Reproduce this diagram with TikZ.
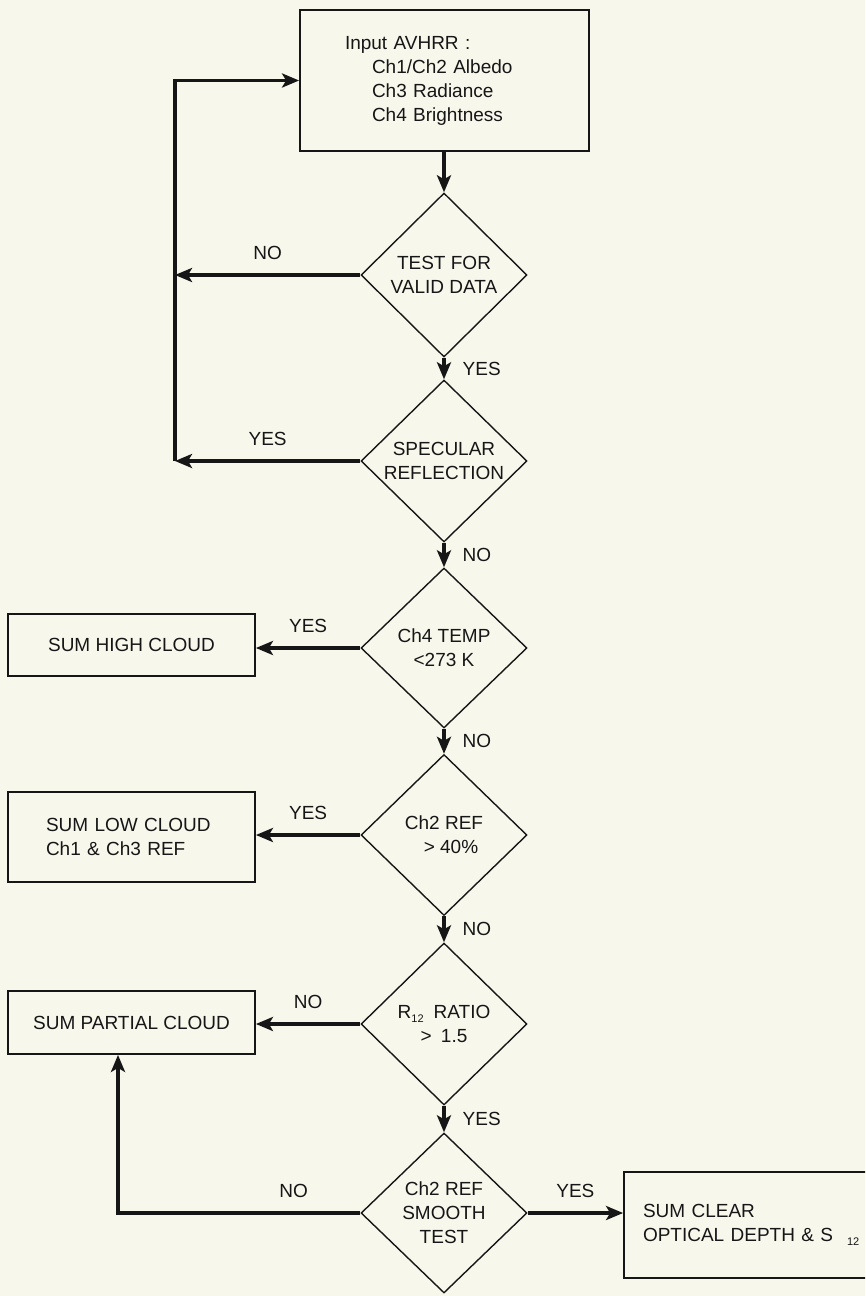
\documentclass[tikz,border=0pt]{standalone}
\usepackage{fontspec}
\setmainfont{Liberation Sans}
\usetikzlibrary{shapes.geometric,arrows.meta}
\definecolor{paper}{RGB}{248,247,236}
\definecolor{ink}{RGB}{22,22,22}
\begin{document}
\begin{tikzpicture}[x=1pt,y=-1pt,
  txt/.style={font=\fontsize{19}{24}\selectfont, text=ink},
  box/.style={txt, draw=ink, line width=1.8pt, rectangle, inner ysep=0pt},
  dec/.style={txt, draw=ink, line width=1.4pt, diamond, aspect=1.03,
    minimum width=166pt, minimum height=162pt, inner sep=0pt, align=center},
  conn/.style={draw=ink, line width=3.4pt,
    -{Stealth[length=17pt,width=14pt,inset=4pt]}},
  lbl/.style={txt, inner sep=1pt},
  lblup/.style={lbl, midway, yshift=22pt},
  lblright/.style={lbl, midway, anchor=west, xshift=16pt}
]
\useasboundingbox (0,0) rectangle (865,1296);
\fill[paper] (0,0) rectangle (865,1296);
\clip (0,0) rectangle (865,1296);

% boxes
\node[box, minimum width=289pt, minimum height=141pt, text width=199pt,
  inner xsep=45pt, align=left] (input) at (444.5,80.5)
  {Input AVHRR :\\\hspace*{27pt}Ch1/Ch2 Albedo\\\hspace*{27pt}Ch3 Radiance\\\hspace*{27pt}Ch4 Brightness};
\node[box, minimum width=247pt, minimum height=62pt] (high) at (131.5,645) {SUM HIGH CLOUD};
\node[box, minimum width=247pt, minimum height=90pt, text width=171pt,
  inner xsep=38pt, align=left] (low) at (131.5,837) {SUM LOW CLOUD\\Ch1 \& Ch3 REF};
\node[box, minimum width=247pt, minimum height=63pt] (partial) at (131.5,1022.5) {SUM PARTIAL CLOUD};
\node[box, minimum width=276pt, minimum height=106pt, text width=238pt,
  inner xsep=19pt, align=left] (clear) at (762,1225)
  {SUM CLEAR\\OPTICAL DEPTH \& S\hspace{14pt}\raisebox{-4pt}{\fontsize{11}{11}\selectfont 12}};

% decisions
\node[dec, minimum height=164pt] (d1) at (444,275) {TEST FOR\\VALID DATA};
\node[dec] (d2) at (444,461) {SPECULAR\\REFLECTION};
\node[dec, minimum height=160pt] (d3) at (444,648) {Ch4 TEMP\\<273 K};
\node[dec, minimum height=161pt] (d4) at (444,835) {Ch2 REF\\\hspace*{14pt}> 40\%};
\node[dec] (d5) at (444,1024) {R\raisebox{-4pt}{\fontsize{11}{11}\selectfont 12}\hspace{10pt}RATIO\\> \hspace{4pt}1.5};
\node[dec, minimum height=160pt] (d6) at (444,1213) {Ch2 REF\\SMOOTH\\TEST};

% return rail
\coordinate (rail) at (175,461);
\coordinate (railtop) at (175,80.5);
\coordinate (turn) at (118,1213);

% connectors
\draw[conn] (input.south -| d1.north) -- (d1.north);
\draw[conn] (d1.west) -- (d1.west -| rail) node[lblup] {NO};
\draw[conn] (d1.south) -- (d2.north) node[lblright] {YES};
\draw[conn] (d2.west) -- (rail) node[lblup] {YES};
\draw[conn] (rail) -- (railtop) -- (input.west);
\draw[conn] (d2.south) -- (d3.north) node[lblright] {NO};
\draw[conn] (d3.west) -- (d3.west -| high.east) node[lblup] {YES};
\draw[conn] (d3.south) -- (d4.north) node[lblright] {NO};
\draw[conn] (d4.west) -- (d4.west -| low.east) node[lblup] {YES};
\draw[conn] (d4.south) -- (d5.north) node[lblright] {NO};
\draw[conn] (d5.west) -- (d5.west -| partial.east) node[lblup] {NO};
\draw[conn] (d5.south) -- (d6.north) node[lblright] {YES};
\draw[conn] (d6.west) -- node[lbl, pos=0.275, yshift=22pt] {NO} (turn) -- (turn |- partial.south);
\draw[conn] (d6.east) -- (d6.east -| clear.west) node[lblup] {YES};
\end{tikzpicture}
\end{document}
